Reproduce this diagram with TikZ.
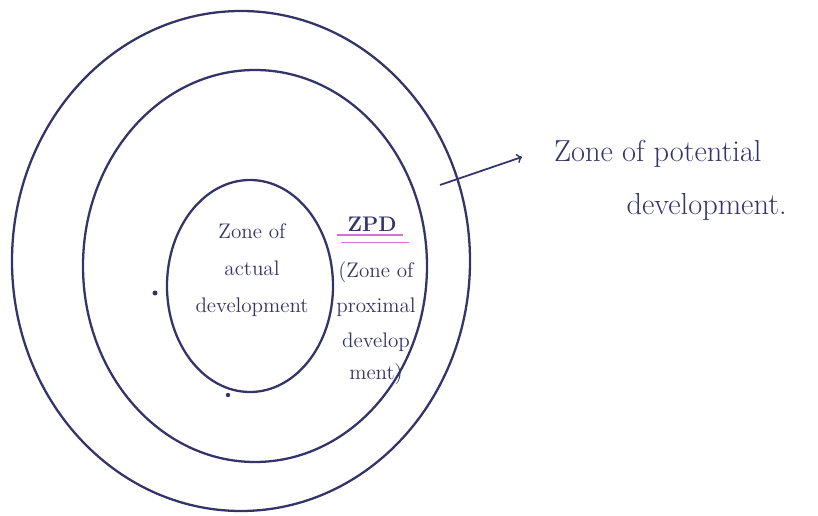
\documentclass[tikz,border=0pt]{standalone}
\usepackage{tikz}
\usetikzlibrary{arrows,positioning,calc}
\definecolor{ink}{RGB}{52,52,105}
\definecolor{pinkline}{RGB}{205,120,200}
\tikzset{zone/.style={draw=ink,line width=1.3pt},
  word/.style={text=ink,align=center,font=\large,inner sep=1pt}}
\begin{document}
\begin{tikzpicture}[x=0.02cm,y=-0.02cm, line join=round]
\useasboundingbox (0,0) rectangle (818,516);
\coordinate (O) at (241,261);
\coordinate (M) at (255,266);
\coordinate (I) at (250,286);
\draw[zone] (O) ellipse [x radius=229, y radius=250];
\draw[zone] (M) ellipse [x radius=172, y radius=196];
\draw[zone] (I) ellipse [x radius=83, y radius=106];
\node[word] (actual) at (252,270) {Zone of\\[7pt] actual\\[7pt] development};
\node[word,font=\large\bfseries] (zpd) at (372,224) {ZPD};
\draw[pinkline,line width=1.2pt] ($(zpd.south west)+(-8,2)$) -- ($(zpd.south east)+(4,2)$);
\draw[pinkline,line width=0.8pt] ($(zpd.south west)+(-4,9)$) -- ($(zpd.south east)+(10,9)$);
\node[word] (proximal) at (376,323) {(Zone of\\[6pt] proximal\\[6pt] develop\\[4pt] ment)};
\node[word,font=\LARGE,anchor=west,align=left] (potential) at (552,180) {Zone of potential\\[8pt] \hspace*{1.45cm}development.};
\coordinate (tail) at (440,185);
\coordinate (head) at (522,157);
\draw[ink,line width=1pt,->] (tail) -- (head);
\fill[ink] (155,293) circle (2.5) (228,395) circle (2.2);
\end{tikzpicture}
\end{document}
